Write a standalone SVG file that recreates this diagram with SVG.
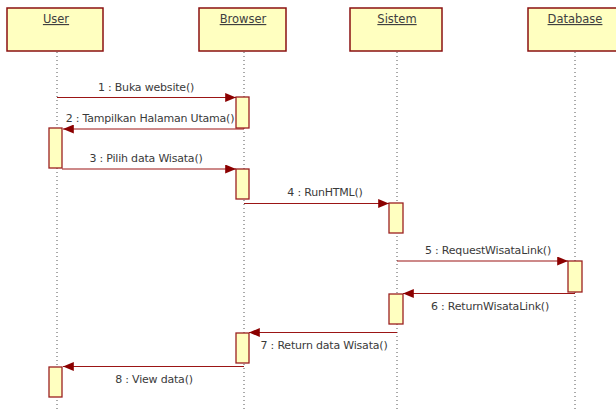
<svg xmlns="http://www.w3.org/2000/svg" width="616" height="410" viewBox="0 0 616 410">
<defs>
<style>
.obj{fill:#FFFFC0;stroke:#8B1010;stroke-width:1.5}
.act{fill:#FFFFC0;stroke:#9B2020;stroke-width:1.3}
.name{font-family:"DejaVu Sans",sans-serif;font-size:11.5px;fill:#404040;text-anchor:middle;text-decoration:underline}
.lbl{font-family:"DejaVu Sans",sans-serif;font-size:11px;fill:#3a3a3a;text-anchor:middle;letter-spacing:-0.2px}
.life{stroke:#555;stroke-width:1;stroke-dasharray:1 3;fill:none}
.msg{stroke:#9B1515;stroke-width:1.2;fill:none;marker-end:url(#ah)}
</style>
<marker id="ah" viewBox="0 0 12 10" refX="12" refY="5" markerWidth="12" markerHeight="9" markerUnits="userSpaceOnUse" orient="auto">
<path d="M0,0 L12,5 L0,10 z" fill="#8B0000"/>
</marker>
</defs>
<rect width="616" height="410" fill="#ffffff"/>
<g id="lifelines">
<line class="life" x1="57" y1="52" x2="57" y2="410"/>
<line class="life" x1="244" y1="52" x2="244" y2="410"/>
<line class="life" x1="397" y1="52" x2="397" y2="410"/>
<line class="life" x1="575" y1="52" x2="575" y2="410"/>
</g>
<g id="user"><rect class="obj" x="7" y="8" width="96" height="43"/><text class="name" x="56" y="23">User</text></g>
<g id="browser"><rect class="obj" x="199" y="8" width="87" height="43"/><text class="name" x="243" y="23">Browser</text></g>
<g id="sistem"><rect class="obj" x="350" y="8" width="92" height="43"/><text class="name" x="397" y="23">Sistem</text></g>
<g id="database"><rect class="obj" x="528" y="8" width="92" height="43"/><text class="name" x="575" y="23">Database</text></g>
<g id="activations">
<rect class="act" x="236" y="97" width="13" height="31"/>
<rect class="act" x="49" y="128" width="13" height="40"/>
<rect class="act" x="236" y="169" width="13" height="30"/>
<rect class="act" x="389" y="203" width="14" height="30"/>
<rect class="act" x="568" y="261" width="14" height="31"/>
<rect class="act" x="389" y="294" width="14" height="30"/>
<rect class="act" x="236" y="333" width="13" height="30"/>
<rect class="act" x="49" y="367" width="13" height="30"/>
</g>
<g id="connectors">
<line class="msg" x1="57" y1="97.5" x2="236" y2="97.5"/>
<line class="msg" x1="244" y1="129" x2="63" y2="129"/>
<line class="msg" x1="62" y1="169" x2="236" y2="169"/>
<line class="msg" x1="244" y1="203.5" x2="389" y2="203.5"/>
<line class="msg" x1="397" y1="261" x2="568" y2="261"/>
<line class="msg" x1="575" y1="293.5" x2="403" y2="293.5"/>
<line class="msg" x1="397" y1="332.5" x2="249" y2="332.5"/>
<line class="msg" x1="244" y1="366.5" x2="63" y2="366.5"/>
</g>
<g id="labels">
<text class="lbl" x="146" y="91">1 : Buka website()</text>
<text class="lbl" x="150" y="122">2 : Tampilkan Halaman Utama()</text>
<text class="lbl" x="146" y="162">3 : Pilih data Wisata()</text>
<text class="lbl" x="325" y="196">4 : RunHTML()</text>
<text class="lbl" x="488" y="254">5 : RequestWisataLink()</text>
<text class="lbl" x="490" y="310">6 : ReturnWisataLink()</text>
<text class="lbl" x="324" y="349">7 : Return data Wisata()</text>
<text class="lbl" x="154" y="383">8 : View data()</text>
</g>
</svg>
